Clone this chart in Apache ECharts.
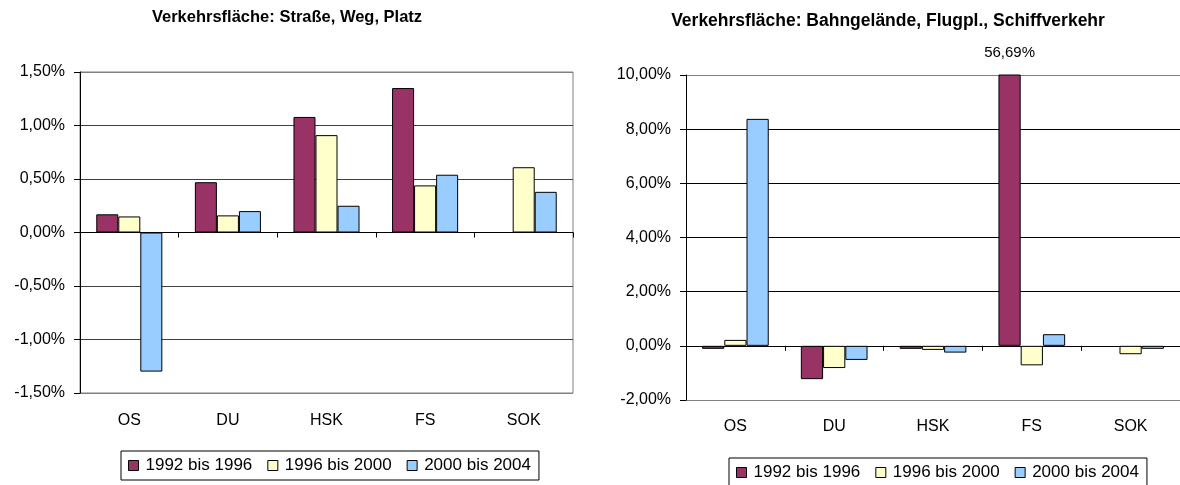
<!DOCTYPE html>
<html>
<head>
<meta charset="utf-8">
<script src="https://cdn.jsdelivr.net/npm/echarts@6/dist/echarts.min.js"></script>
<style>
html,body{margin:0;padding:0;background:#fff;}
#c{width:1180px;height:485px;}
</style>
</head>
<body>
<div id="c"></div>
<script>
// ---- data ----
const categories = ['OS', 'DU', 'HSK', 'FS', 'SOK'];
const seriesNames = ['1992 bis 1996', '1996 bis 2000', '2000 bis 2004'];
const titleLeft = 'Verkehrsfläche: Straße, Weg, Platz';
const titleRight = 'Verkehrsfläche: Bahngelände, Flugpl., Schiffverkehr';
// Straße, Weg, Platz (% change)
const strasse1992 = [0.17, 0.47, 1.08, 1.35, null];
const strasse1996 = [0.15, 0.16, 0.91, 0.44, 0.61];
const strasse2000 = [-1.30, 0.20, 0.25, 0.54, 0.38];
// Bahngelände, Flugplatz, Schiffverkehr (% change)
const bahn1992 = [-0.11, -1.23, -0.11, 56.69, null];
const bahn1996 = [0.22, -0.82, -0.15, -0.72, -0.31];
const bahn2000 = [8.38, -0.52, -0.25, 0.43, -0.11];
// axis ranges / ticks
const leftAxis = { min: -1.5, max: 1.5, interval: 0.5 };
const rightAxis = { min: -2, max: 10, interval: 2 };

const colors = ['#993366', '#FFFFCC', '#99CCFF'];
const FONT = "'Liberation Sans', Arial, sans-serif";
const pct = v => v.toFixed(2).replace('.', ',') + '%';

function lineColors(axis, edge, inner) {
  const n = Math.round((axis.max - axis.min) / axis.interval);
  const arr = [];
  for (let i = 0; i <= n; i++) {
    const v = axis.min + i * axis.interval;
    if (i === 0 || i === n) arr.push(edge);
    else if (Math.abs(v) < 1e-9) arr.push('#000');
    else arr.push(inner);
  }
  return arr;
}

function labelAxis(grid, margin) {
  return {
    type: 'category', gridIndex: grid, data: categories, position: 'bottom',
    axisLine: { show: false, onZero: false }, axisTick: { show: false },
    axisLabel: { color: '#000', fontSize: 16, fontFamily: FONT, margin: margin },
    splitLine: { show: false }
  };
}
function zeroAxis(grid) {
  return {
    type: 'category', gridIndex: grid, data: categories, position: 'bottom',
    axisLine: { show: true, onZero: true, lineStyle: { color: '#000', width: 1 } },
    axisTick: { show: true, length: 5, lineStyle: { color: '#000' } },
    axisLabel: { show: false }, splitLine: { show: false }
  };
}
function valAxis(grid, ax, edge, inner) {
  return {
    type: 'value', gridIndex: grid, min: ax.min, max: ax.max, interval: ax.interval,
    axisLine: { show: true, lineStyle: { color: '#000', width: 1 } },
    axisTick: { show: true, length: 6, inside: false, lineStyle: { color: '#000' } },
    axisLabel: { color: '#000', fontSize: 16, fontFamily: FONT, margin: 15, formatter: pct },
    splitLine: { show: true, lineStyle: { color: lineColors(ax, edge, inner), width: 1 } }
  };
}
function bar(name, data, xi, yi, ci, gap) {
  return {
    type: 'bar', name: name, data: data, xAxisIndex: xi, yAxisIndex: yi,
    barGap: '0%', barCategoryGap: gap, clip: true,
    itemStyle: { color: colors[ci], borderColor: '#000', borderWidth: 1 },
    emphasis: { disabled: true }, animation: false
  };
}
function legend(left, top) {
  return {
    left: left, top: top, orient: 'horizontal',
    data: seriesNames, icon: 'rect', itemWidth: 10, itemHeight: 10, itemGap: 15,
    borderColor: '#000', borderWidth: 1, padding: [6, 8, 6, 7],
    itemStyle: { borderColor: '#000', borderWidth: 1 },
    textStyle: { color: '#000', fontSize: 17, fontFamily: FONT, padding: [0, 0, 0, 2] },
    selectedMode: false
  };
}

const bahnFirst = bahn1992.map((v, i) =>
  v !== null && v > rightAxis.max
    ? { value: v, label: { show: true, position: 'top', distance: 14, color: '#000', fontSize: 15, fontFamily: FONT, formatter: p => pct(p.value) } }
    : v);

const chart = echarts.init(document.getElementById('c'), null, { renderer: 'canvas' });
chart.setOption({
  animation: false,
  backgroundColor: '#fff',
  title: [
    { text: titleLeft, left: 287, top: 9, textAlign: 'center', padding: 0,
      textStyle: { fontSize: 16.5, fontWeight: 'bold', color: '#000', fontFamily: FONT } },
    { text: titleRight, left: 888, top: 12, textAlign: 'center', padding: 0,
      textStyle: { fontSize: 17.5, fontWeight: 'bold', color: '#000', fontFamily: FONT } }
  ],
  grid: [
    { left: 80, top: 72, width: 493, height: 321, show: true, borderColor: '#808080', borderWidth: 1, backgroundColor: 'transparent', containLabel: false },
    { left: 686, top: 75, width: 500, height: 325, show: false, containLabel: false }
  ],
  legend: [legend(121, 451), legend(729, 458)],
  xAxis: [labelAxis(0, 20), zeroAxis(0), labelAxis(1, 19), zeroAxis(1)],
  yAxis: [valAxis(0, leftAxis, '#808080', '#404040'), valAxis(1, rightAxis, '#808080', '#000')],
  series: [
    bar(seriesNames[0], strasse1992, 0, 0, 0, '33%'),
    bar(seriesNames[1], strasse1996, 0, 0, 1, '33%'),
    bar(seriesNames[2], strasse2000, 0, 0, 2, '33%'),
    bar(seriesNames[0], bahnFirst, 2, 1, 0, '32.5%'),
    bar(seriesNames[1], bahn1996, 2, 1, 1, '32.5%'),
    bar(seriesNames[2], bahn2000, 2, 1, 2, '32.5%')
  ]
});
</script>
</body>
</html>
